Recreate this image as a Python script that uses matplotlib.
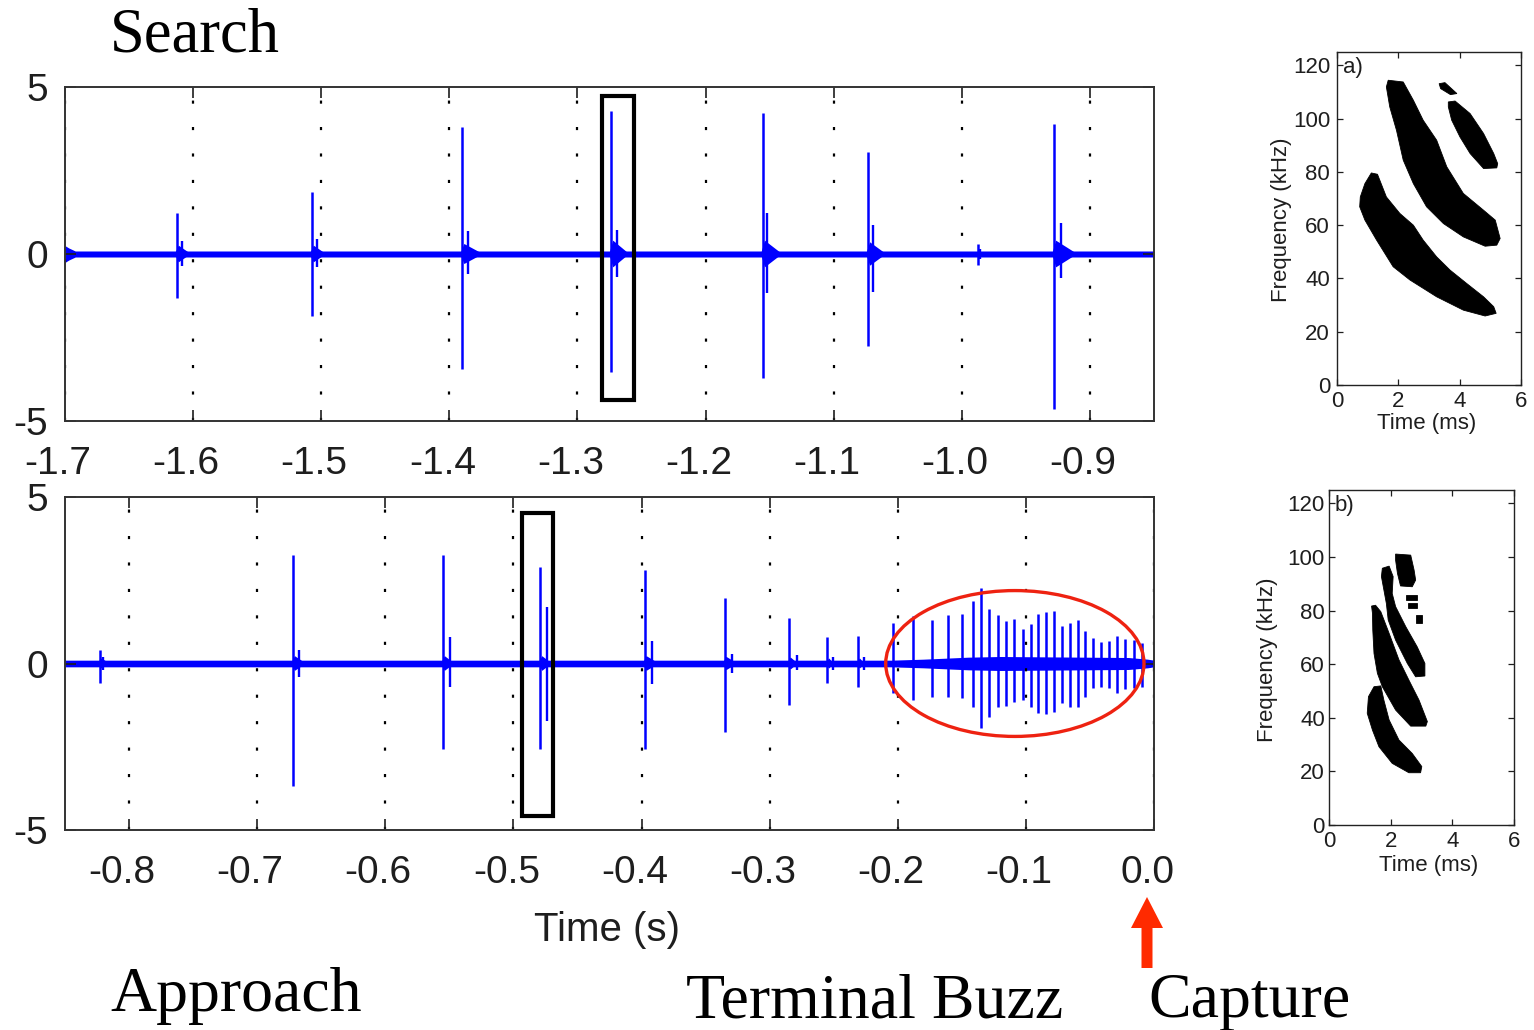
import numpy as np
import matplotlib
matplotlib.use("Agg")
import matplotlib.pyplot as plt
from matplotlib.patches import Ellipse, Rectangle, Polygon, FancyArrow
from matplotlib.transforms import ScaledTranslation

plt.rcParams['axes.unicode_minus'] = False
plt.rcParams['font.family'] = ['Liberation Sans', 'DejaVu Sans']

BLUE = '#0000ff'
RED = '#ee2211'
INK = '#1e1e1e'

# ---------------- search phase (-1.7 s .. -0.85 s) ----------------
search_ticks = [-1.7, -1.6, -1.5, -1.4, -1.3, -1.2, -1.1, -1.0, -0.9]
search_labels = ['-1.7', '-1.6', '-1.5', '-1.4', '-1.3', '-1.2', '-1.1', '-1.0', '-0.9']
search_t = [-1.6127, -1.5073, -1.3898, -1.2736, -1.1552, -1.0731, -0.9877, -0.9279]
search_hi = [1.24, 1.87, 3.80, 4.28, 4.22, 3.05, 0.30, 3.89]
search_lo = [-1.33, -1.86, -3.44, -3.53, -3.71, -2.75, -0.32, -4.64]
search_echo_dt = [0.004, 0.004, 0.004, 0.0043, 0.003, 0.004, 0.002, 0.0053]
search_echo_hi = [0.40, 0.45, 0.70, 0.72, 1.23, 0.87, 0.15, 0.93]
search_echo_lo = [-0.35, -0.40, -0.60, -0.69, -1.17, -1.14, -0.15, -0.72]
search_ring_amp = [0.25, 0.25, 0.30, 0.40, 0.40, 0.35, 0.10, 0.40]
search_ring_dur = [0.011, 0.011, 0.016, 0.014, 0.015, 0.014, 0.004, 0.018]
search_band_t = [-1.70, -1.697, -1.692, -0.85]
search_band_hw = [0.25, 0.18, 0.09, 0.09]
search_box = (-1.2807, -1.2559, -4.37, 4.73)

# ---------------- approach phase (-0.85 s .. 0 s) ----------------
final_ticks = [-0.8, -0.7, -0.6, -0.5, -0.4, -0.3, -0.2, -0.1, 0.0]
final_labels = ['-0.8', '-0.7', '-0.6', '-0.5', '-0.4', '-0.3', '-0.2', '-0.1', '0.0']
approach_t = [-0.823, -0.672, -0.555, -0.479, -0.3975, -0.3352, -0.285, -0.255, -0.231]
approach_hi = [0.41, 3.26, 3.26, 2.89, 2.81, 1.98, 1.36, 0.79, 0.83]
approach_lo = [-0.59, -3.68, -2.58, -2.57, -2.58, -2.05, -1.25, -0.60, -0.70]
approach_echo_dt = [0.003, 0.005, 0.0054, 0.0053, 0.0057, 0.0055, 0.006, 0.0047, 0.0047]
approach_echo_hi = [0.20, 0.40, 0.80, 1.70, 0.68, 0.30, 0.25, 0.20, 0.20]
approach_echo_lo = [-0.20, -0.40, -0.70, -1.72, -0.62, -0.30, -0.20, -0.20, -0.20]
approach_ring_amp = [0.15, 0.22, 0.22, 0.22, 0.22, 0.20, 0.18, 0.15, 0.15]
approach_ring_dur = [0.008, 0.010, 0.009, 0.009, 0.011, 0.010, 0.007, 0.005, 0.005]

# terminal buzz pulses
buzz_t = [-0.2034, -0.1878, -0.1734, -0.1607, -0.1500, -0.1412, -0.1352, -0.1287,
          -0.1221, -0.1154, -0.1091, -0.1026, -0.0961, -0.0904, -0.0844, -0.0779,
          -0.0719, -0.0659, -0.0596, -0.0537, -0.0474, -0.0414, -0.0354, -0.0289,
          -0.0227, -0.0159, -0.0096]
buzz_hi = [1.23, 1.43, 1.31, 1.45, 1.48, 1.88, 2.28, 1.63, 1.46, 1.29, 1.33, 1.03,
           1.19, 1.49, 1.56, 1.59, 1.13, 1.23, 1.31, 0.99, 0.76, 0.65, 0.69, 0.83,
           0.73, 0.71, 0.61]
buzz_lo = [-0.90, -1.10, -1.00, -1.00, -1.05, -1.30, -1.95, -1.60, -1.30, -1.28,
           -1.15, -1.10, -1.30, -1.50, -1.52, -1.45, -1.20, -1.30, -1.30, -1.00,
           -0.74, -0.71, -0.74, -0.90, -0.77, -0.74, -0.70]
final_band_t = [-0.85, -0.205, -0.18, -0.145, -0.12, -0.02, -0.005, 0.0]
final_band_hw = [0.10, 0.10, 0.13, 0.19, 0.21, 0.18, 0.13, 0.10]
final_box = (-0.4933, -0.4694, -4.58, 4.52)
buzz_ellipse = (-0.1086, 0.0, 0.2016, 4.38)

# ---------------- call spectrograms (time ms, frequency kHz) ----------------
search_call_bands = [
    [(1.12, 79.6), (1.32, 79.1), (1.61, 70.6), (2.05, 64.4), (2.49, 60.0), (2.81, 54.4),
     (3.25, 48.1), (3.69, 43.1), (4.23, 38.1), (4.78, 33.1), (5.11, 29.4), (5.19, 26.9),
     (4.83, 25.9), (4.12, 28.1), (3.25, 33.1), (2.38, 39.4), (1.83, 44.4), (1.29, 54.4),
     (0.91, 61.9), (0.74, 66.9), (0.76, 70.6), (0.91, 75.6)],
    [(1.67, 114.4), (2.16, 113.75), (2.49, 106.9), (2.81, 99.4), (3.25, 91.9), (3.58, 81.9),
     (4.12, 71.9), (4.78, 65.6), (5.16, 61.9), (5.32, 55.0), (5.21, 52.5), (4.83, 52.1),
     (4.12, 55.6), (3.47, 60.6), (2.92, 66.9), (2.49, 75.6), (2.16, 84.4), (1.94, 95.6),
     (1.72, 104.4), (1.61, 111.9)],
    [(3.63, 106.25), (3.85, 106.6), (4.34, 101.9), (4.78, 94.4), (5.11, 86.9), (5.24, 83.1),
     (5.21, 81.5), (4.78, 81.25), (4.34, 86.9), (4.01, 93.1), (3.74, 99.4), (3.63, 104.4)],
    [(3.33, 113.1), (3.52, 113.5), (3.91, 109.4), (3.70, 109.0), (3.38, 111.25)],
]
approach_call_bands = [
    [(1.46, 51.6), (1.68, 51.9), (1.78, 46.6), (1.95, 39.2), (2.27, 31.7), (2.70, 26.7),
     (3.01, 21.8), (2.97, 19.5), (2.59, 19.5), (2.05, 23.0), (1.62, 29.2), (1.41, 35.4),
     (1.24, 41.7), (1.28, 47.9)],
    [(1.38, 81.7), (1.51, 82.0), (1.68, 79.6), (1.95, 71.5), (2.27, 61.6), (2.59, 54.1),
     (2.92, 46.6), (3.19, 38.6), (3.14, 36.9), (2.65, 36.9), (2.16, 42.9), (1.73, 51.6),
     (1.57, 56.6), (1.46, 64.0), (1.42, 72.8), (1.41, 79.0)],
    [(1.73, 95.8), (1.95, 96.6), (2.08, 92.7), (2.05, 86.4), (2.16, 81.5), (2.49, 74.0),
     (2.86, 66.5), (3.11, 60.3), (3.11, 55.6), (2.81, 55.3), (2.54, 60.3), (2.16, 69.0),
     (1.92, 76.5), (1.86, 82.7), (1.78, 87.7), (1.70, 92.7)],
    [(2.16, 101.1), (2.65, 100.7), (2.76, 95.1), (2.81, 91.4), (2.70, 88.9), (2.32, 89.2),
     (2.22, 93.9), (2.16, 98.8)],
    [(2.49, 85.8), (2.86, 85.8), (2.86, 84.0), (2.49, 84.0)],
    [(2.57, 83.0), (2.86, 83.0), (2.86, 80.8), (2.57, 80.8)],
    [(2.81, 78.4), (3.03, 78.4), (3.03, 75.2), (2.81, 75.2)],
]
spec_xticks = [0, 2, 4, 6]
spec_yticks = [0, 20, 40, 60, 80, 100, 120]

W, H = 1534, 1030
fig = plt.figure(figsize=(W / 100, H / 100), dpi=100)


def frac(left, top, right, bottom):
    return [left / W, 1 - bottom / H, (right - left) / W, (bottom - top) / H]


def draw_pulses(ax, t, hi, lo, echo_dt=None, echo_hi=None, echo_lo=None,
                ring_amp=None, ring_dur=None):
    if ring_amp is not None:
        # ringing after each click: a narrow lozenge that fades back into the baseline
        for ti, ra, rd in zip(t, ring_amp, ring_dur):
            ax.add_patch(Polygon([(ti - 0.0015, 0.0), (ti + 0.0015, ra), (ti + rd, 0.0),
                                  (ti + 0.0015, -ra)], closed=True, fc=BLUE, ec='none'))
    if echo_dt is not None:
        et = [ti + d for ti, d in zip(t, echo_dt)]
        ax.vlines(et, echo_lo, echo_hi, color=BLUE, lw=1.7)
    ax.vlines(t, lo, hi, color=BLUE, lw=1.8)


def style_wave_axes(ax, xlim, ticks, labels):
    ax.set_xlim(*xlim)
    ax.set_ylim(-5, 5)
    ax.set_xticks(ticks)
    ax.set_xticklabels(labels)
    ax.set_yticks([-5, 0, 5])
    ax.set_yticklabels(['-5', '0', '5'])
    ax.grid(axis='x', color='k', linestyle=(0, (1.4, 10.5)), linewidth=1.6)
    ax.grid(axis='y', visible=False)
    ax.tick_params(direction='in', top=True, right=True, length=8, width=1.2,
                   labelsize=28, colors=INK)
    ax.tick_params(axis='x', pad=18)
    ax.tick_params(axis='y', pad=12)
    shift = ScaledTranslation(-7 / 100, 0, fig.dpi_scale_trans)
    for lab in ax.get_xticklabels():
        lab.set_transform(lab.get_transform() + shift)
    for s in ax.spines.values():
        s.set_linewidth(1.4)
        s.set_color('#333333')


# search trace
ax1 = fig.add_axes(frac(65, 87, 1154, 421))
ax1.fill_between(search_band_t, [-w for w in search_band_hw], search_band_hw, color=BLUE, lw=0)
draw_pulses(ax1, search_t, search_hi, search_lo, search_echo_dt, search_echo_hi,
            search_echo_lo, search_ring_amp, search_ring_dur)
style_wave_axes(ax1, (-1.7, -0.85), search_ticks, search_labels)
x0, x1, y0, y1 = search_box
ax1.add_patch(Rectangle((x0, y0), x1 - x0, y1 - y0, fill=False, ec='k', lw=3, zorder=5))

# approach + buzz trace
ax2 = fig.add_axes(frac(65, 497, 1154, 830))
ax2.fill_between(final_band_t, [-w for w in final_band_hw], final_band_hw, color=BLUE, lw=0)
draw_pulses(ax2, approach_t, approach_hi, approach_lo, approach_echo_dt, approach_echo_hi,
            approach_echo_lo, approach_ring_amp, approach_ring_dur)
draw_pulses(ax2, buzz_t, buzz_hi, buzz_lo)
style_wave_axes(ax2, (-0.85, 0.0), final_ticks, final_labels)
x0, x1, y0, y1 = final_box
ax2.add_patch(Rectangle((x0, y0), x1 - x0, y1 - y0, fill=False, ec='k', lw=3, zorder=5))
cx, cy, ew, eh = buzz_ellipse
ax2.add_patch(Ellipse((cx, cy), ew, eh, fill=False, ec=RED, lw=2.4, zorder=6, clip_on=False))
fig.text(607 / W, 1 - 930 / H, 'Time (s)', fontsize=29, color=INK, ha='center', va='center')


def draw_spec(ax, bands, tag, ylabel_pad):
    for verts in bands:
        ax.add_patch(Polygon(verts, closed=True, fc='k', ec='k', lw=0.6))
    ax.set_xlim(0, 6)
    ax.set_ylim(0, 125)
    ax.set_xticks(spec_xticks)
    ax.set_yticks(spec_yticks)
    ax.tick_params(direction='in', top=True, right=True, length=4, width=0.9,
                   labelsize=16, colors=INK)
    ax.tick_params(axis='x', pad=4)
    ax.tick_params(axis='y', pad=ylabel_pad)
    for s in ax.spines.values():
        s.set_linewidth(1.0)
        s.set_color('#222222')
    ax.text(0.03, 0.985, tag, transform=ax.transAxes, fontsize=16, ha='left', va='top',
            color=INK)


axa = fig.add_axes(frac(1337, 52, 1521, 385))
draw_spec(axa, search_call_bands, 'a)', 5)
fig.text(1427 / W, 1 - 424 / H, 'Time (ms)', fontsize=16, color=INK, ha='center', va='center')
fig.text(1281 / W, 1 - 220 / H, 'Frequency (kHz)', fontsize=16, color=INK, ha='center',
         va='center', rotation=90)

axb = fig.add_axes(frac(1329, 490, 1514, 825))
draw_spec(axb, approach_call_bands, 'b)', 3)
fig.text(1429 / W, 1 - 866 / H, 'Time (ms)', fontsize=16, color=INK, ha='center', va='center')
fig.text(1267 / W, 1 - 660 / H, 'Frequency (kHz)', fontsize=16, color=INK, ha='center',
         va='center', rotation=90)

# phase captions
serif = ['Liberation Serif', 'DejaVu Serif']
fig.text(110 / W, 1 - 51 / H, 'Search', family=serif, fontsize=45, ha='left', va='baseline')
fig.text(110 / W, 1 - 1011 / H, 'Approach', family=serif, fontsize=46, ha='left', va='baseline')
fig.text(686 / W, 1 - 1017 / H, 'Terminal Buzz', family=serif, fontsize=46, ha='left',
         va='baseline')
fig.text(1148 / W, 1 - 1017 / H, 'Capture', family=serif, fontsize=46, ha='left',
         va='baseline')

# capture marker
fig.add_artist(FancyArrow(11.47, (H - 968) / 100, 0, 0.71, width=0.11, head_width=0.32,
                          head_length=0.31, length_includes_head=True, color='#ff2a00',
                          lw=0, transform=fig.dpi_scale_trans))

fig.savefig('out.png', dpi=100)
